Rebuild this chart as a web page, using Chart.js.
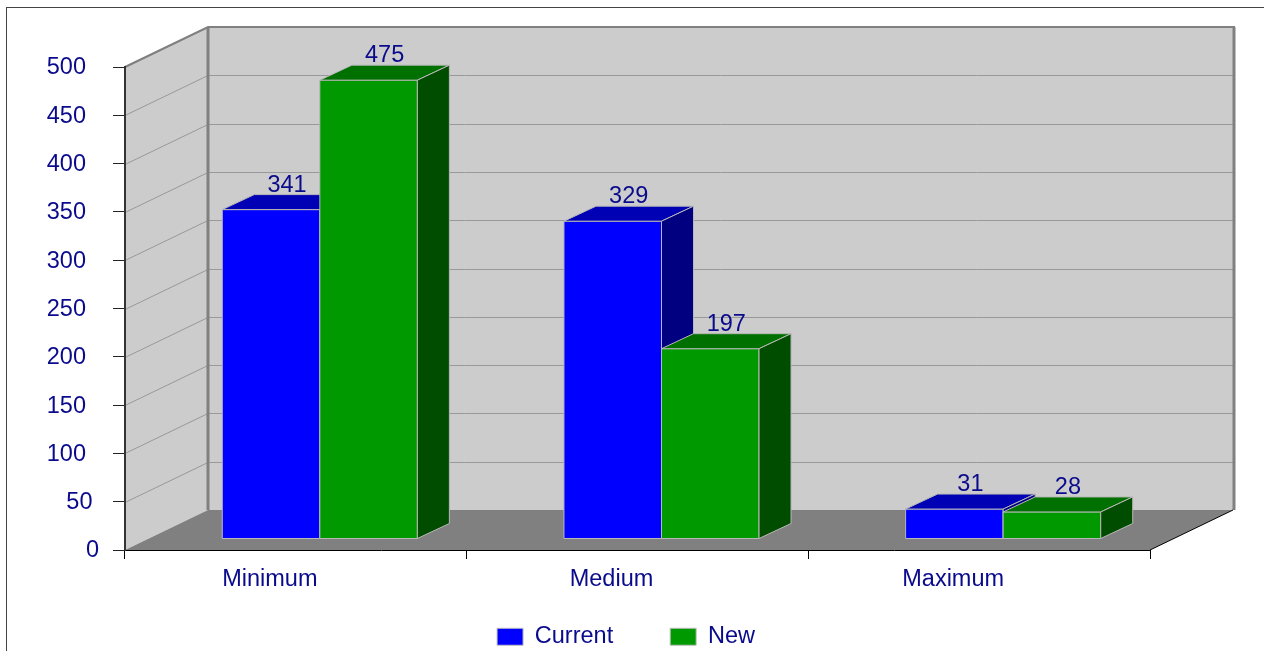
<!DOCTYPE html>
<html>
<head>
<meta charset="utf-8">
<script src="https://cdn.jsdelivr.net/npm/chart.js@4"></script>
<style>
html, body { margin: 0; padding: 0; background: #fff; }
</style>
</head>
<body>
<canvas id="chart" width="1264" height="651"></canvas>
<script>
const categories = ["Minimum", "Medium", "Maximum"];
const seriesNames = ["Current", "New"];
const currentValues = [341, 329, 31];
const newValues = [475, 197, 28];
const yTickValues = [0, 50, 100, 150, 200, 250, 300, 350, 400, 450, 500];

const NAVY = "#0a0a8c";
const FONT = "'Liberation Sans', Arial, sans-serif";
const FSIZE = 23.5;

// depth of the box and of the bars
const WALL_DX = 83, WALL_DY = -40;
const BAR_DX = 24, BAR_DY = -11;
const DEPTH_DX = 32, DEPTH_DY = -15;

const faces = [
  { front: "#0000ff", top: "#0000b4", side: "#000080" },
  { front: "#009900", top: "#007000", side: "#004d00" }
];

function poly(ctx, pts, fill, stroke) {
  ctx.beginPath();
  ctx.moveTo(pts[0][0], pts[0][1]);
  for (let i = 1; i < pts.length; i++) ctx.lineTo(pts[i][0], pts[i][1]);
  ctx.closePath();
  if (fill) { ctx.fillStyle = fill; ctx.fill(); }
  if (stroke) { ctx.strokeStyle = stroke; ctx.stroke(); }
}

const box3d = {
  id: "box3d",
  beforeInit(chart) {
    // fixed legend height so the plot area lands where it should
    const fit = chart.legend.fit;
    chart.legend.fit = function () {
      fit.call(this);
      this.height = 51;
    };
  },
  afterLayout(chart) {
    // stretch the legend box upward, it uses the same padding across and down
    const lg = chart.legend;
    lg.top -= 32;
    lg.height += 32;
    lg.left -= 6; lg.right -= 6;
  },
  beforeDraw(chart) {
    const { ctx, chartArea: a, scales: { y } } = chart;
    const L = a.left, R = a.right, T = a.top, B = a.bottom;
    ctx.save();

    // outer frame
    ctx.strokeStyle = "#444";
    ctx.lineWidth = 1;
    ctx.strokeRect(6.5, 7.5, 1300, 700);

    // walls and floor
    ctx.fillStyle = "#cccccc";
    ctx.fillRect(L + WALL_DX, T + WALL_DY, R - L, B - T);
    poly(ctx, [[L, T], [L + WALL_DX, T + WALL_DY], [L + WALL_DX, B + WALL_DY], [L, B]], "#cccccc");
    poly(ctx, [[L, B], [L + WALL_DX, B + WALL_DY], [R + WALL_DX, B + WALL_DY], [R, B]], "#808080");

    // grid lines on the walls
    ctx.strokeStyle = "#999";
    ctx.lineWidth = 1;
    yTickValues.forEach(v => {
      if (v === 0) return;
      const py = Math.round(y.getPixelForValue(v)) + 0.5;
      ctx.beginPath();
      ctx.moveTo(L, py);
      ctx.lineTo(L + WALL_DX, py + WALL_DY);
      ctx.lineTo(R + WALL_DX, py + WALL_DY);
      ctx.stroke();
    });

    // wall edges
    ctx.strokeStyle = "#808080";
    ctx.lineWidth = 3;
    ctx.beginPath();
    ctx.moveTo(L + WALL_DX, T + WALL_DY);
    ctx.lineTo(L + WALL_DX, B + WALL_DY);
    ctx.moveTo(R + WALL_DX + 1, T + WALL_DY);
    ctx.lineTo(R + WALL_DX + 1, B + WALL_DY);
    ctx.stroke();
    ctx.lineWidth = 2;
    ctx.beginPath();
    ctx.moveTo(L, T);
    ctx.lineTo(L + WALL_DX, T + WALL_DY);
    ctx.lineTo(R + WALL_DX + 2, T + WALL_DY);
    ctx.stroke();

    ctx.strokeStyle = "#000";
    ctx.lineWidth = 1;
    ctx.beginPath();
    ctx.moveTo(R, B);
    ctx.lineTo(R + WALL_DX, B + WALL_DY);
    ctx.stroke();
    ctx.restore();
  },
  beforeDatasetDraw() {
    return false;
  },
  afterDatasetsDraw(chart) {
    const ctx = chart.ctx;
    ctx.save();
    ctx.lineWidth = 1;
    ctx.lineJoin = "round";
    categories.forEach((c, i) => {
      chart.data.datasets.forEach((ds, d) => {
        const el = chart.getDatasetMeta(d).data[i];
        const f = faces[d];
        const x0 = el.x - el.width / 2 + BAR_DX, x1 = x0 + el.width;
        const yt = el.y + BAR_DY, yb = el.base + BAR_DY;
        const edge = "#b8b8b8";
        poly(ctx, [[x0, yt], [x1, yt], [x1, yb], [x0, yb]], f.front, edge);
        poly(ctx, [[x0, yt], [x0 + DEPTH_DX, yt + DEPTH_DY], [x1 + DEPTH_DX, yt + DEPTH_DY], [x1, yt]], f.top, edge);
        poly(ctx, [[x1, yt], [x1 + DEPTH_DX, yt + DEPTH_DY], [x1 + DEPTH_DX, yb + DEPTH_DY], [x1, yb]], f.side, edge);

        ctx.fillStyle = NAVY;
        ctx.font = FSIZE + "px " + FONT;
        ctx.textAlign = "center";
        ctx.textBaseline = "alphabetic";
        ctx.fillText(String(ds.data[i]), (x0 + x1) / 2 + 16, yt + DEPTH_DY - 3);
      });
    });
    ctx.restore();
  },
  afterDraw(chart) {
    // y tick labels
    const { ctx, scales: { y } } = chart;
    ctx.save();
    ctx.fillStyle = NAVY;
    ctx.font = FSIZE + "px " + FONT;
    ctx.textAlign = "right";
    ctx.textBaseline = "middle";
    yTickValues.forEach(v => {
      const s = String(v);
      ctx.fillText(s, 86 + (3 - s.length) * 6.5, y.getPixelForValue(v) + 1);
    });
    ctx.restore();
  }
};

new Chart(document.getElementById("chart"), {
  type: "bar",
  data: {
    labels: categories,
    datasets: [
      { label: seriesNames[0], data: currentValues, backgroundColor: faces[0].front, borderColor: "#c0c0c0", borderWidth: 1 },
      { label: seriesNames[1], data: newValues, backgroundColor: faces[1].front, borderColor: "#c0c0c0", borderWidth: 1 }
    ]
  },
  options: {
    responsive: false,
    animation: false,
    categoryPercentage: 0.571,
    barPercentage: 1,
    layout: { padding: { top: 67, left: 0, right: 0, bottom: 0 } },
    scales: {
      x: {
        grid: { drawOnChartArea: false, offset: true, tickLength: 9, color: "#000" },
        border: { color: "#000", width: 1 },
        ticks: {
          color: NAVY,
          font: { size: FSIZE, family: FONT },
          labelOffset: -26,
          padding: 6,
          maxRotation: 0,
          autoSkip: false
        },
        afterFit(s) { s.height = 50; }
      },
      y: {
        min: 0,
        max: 500,
        ticks: { stepSize: 50, display: false },
        grid: { drawOnChartArea: false, tickLength: 12, color: "#222" },
        border: { color: "#333", width: 2 },
        afterFit(s) { s.width = 125; }
      },
      yRight: {
        position: "right",
        grid: { display: false },
        border: { display: false },
        ticks: { display: false },
        afterFit(s) { s.width = 114; }
      }
    },
    plugins: {
      legend: {
        position: "bottom",
        labels: {
          boxWidth: 26,
          boxHeight: 17,
          padding: 57,
          color: NAVY,
          font: { size: FSIZE, family: FONT }
        }
      },
      tooltip: { enabled: false }
    }
  },
  plugins: [box3d]
});
</script>
</body>
</html>
